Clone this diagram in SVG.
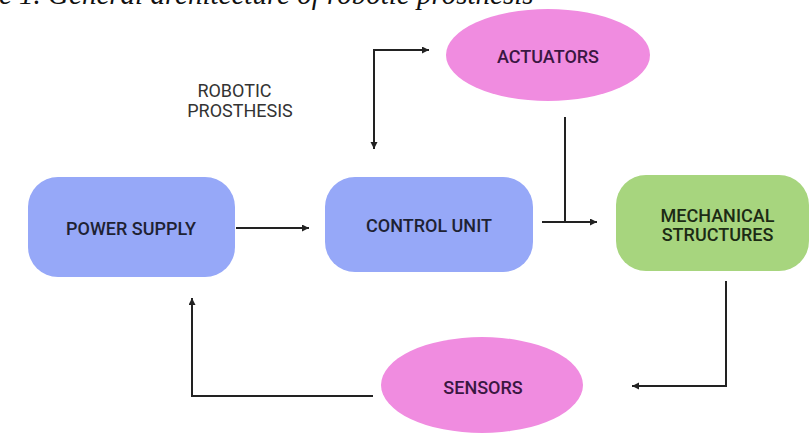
<svg xmlns="http://www.w3.org/2000/svg" width="810" height="434" viewBox="0 0 810 434">
  <style>
    .lbl { font-family: Roboto, "Liberation Sans", sans-serif; font-size: 18px; font-weight: 500; text-anchor: middle; }
    .box { fill: #96a8f8; }
    .dark { fill: #1e2233; }
    .purp { fill: #3a1742; }
    .ell { fill: #f08ce0; }
    .conn { fill: none; stroke: #222; stroke-width: 2; }
  </style>
  <defs>
    <marker id="arr" markerUnits="userSpaceOnUse" markerWidth="8" markerHeight="8" refX="7" refY="3.5" orient="auto-start-reverse">
      <path d="M0,0 L7,3.5 L0,7 z" fill="#222"/>
    </marker>
  </defs>
  <rect width="810" height="434" fill="#ffffff"/>

  <g id="actuators">
    <ellipse class="ell" cx="548" cy="55" rx="102" ry="46"/>
    <text class="lbl purp" x="548" y="63">ACTUATORS</text>
  </g>

  <g id="caption">
    <rect x="0" y="0" width="810" height="9" fill="#ffffff"/>
    <text x="-1" y="4" font-family="'Liberation Serif', serif" font-style="italic" font-size="29" fill="#111">e 1. General architecture of robotic prosthesis</text>
  </g>

  <g id="title">
    <text class="lbl" style="font-weight:400" fill="#333" x="234.5" y="97">ROBOTIC</text>
    <text class="lbl" style="font-weight:400" fill="#333" x="240" y="117">PROSTHESIS</text>
  </g>

  <g id="power-supply">
    <rect class="box" x="28" y="177" width="207" height="100" rx="30"/>
    <text class="lbl dark" x="131" y="235">POWER SUPPLY</text>
  </g>

  <g id="control-unit">
    <rect class="box" x="325" y="177" width="208" height="95" rx="30"/>
    <text class="lbl dark" x="429" y="232">CONTROL UNIT</text>
  </g>

  <g id="mechanical-structures">
    <rect x="616" y="175" width="193" height="96" rx="30" fill="#a7d57e"/>
    <text class="lbl" fill="#1c2a14" x="717.5" y="222">MECHANICAL</text>
    <text class="lbl" fill="#1c2a14" x="717.5" y="241">STRUCTURES</text>
  </g>

  <g id="sensors">
    <ellipse class="ell" cx="482" cy="385" rx="101" ry="48"/>
    <text class="lbl purp" x="483" y="394">SENSORS</text>
  </g>

  <g id="connectors">
    <path class="conn" d="M236,228 L309,228" marker-end="url(#arr)"/>
    <path class="conn" d="M374,149 L374,50 L429,50" marker-start="url(#arr)" marker-end="url(#arr)"/>
    <path class="conn" d="M542,222 L597,222" marker-end="url(#arr)"/>
    <path class="conn" d="M565,117 L565,222"/>
    <path class="conn" d="M726,281 L726,386 L632,386" marker-end="url(#arr)"/>
    <path class="conn" d="M373,396 L192,396 L192,298" marker-end="url(#arr)"/>
  </g>
</svg>
